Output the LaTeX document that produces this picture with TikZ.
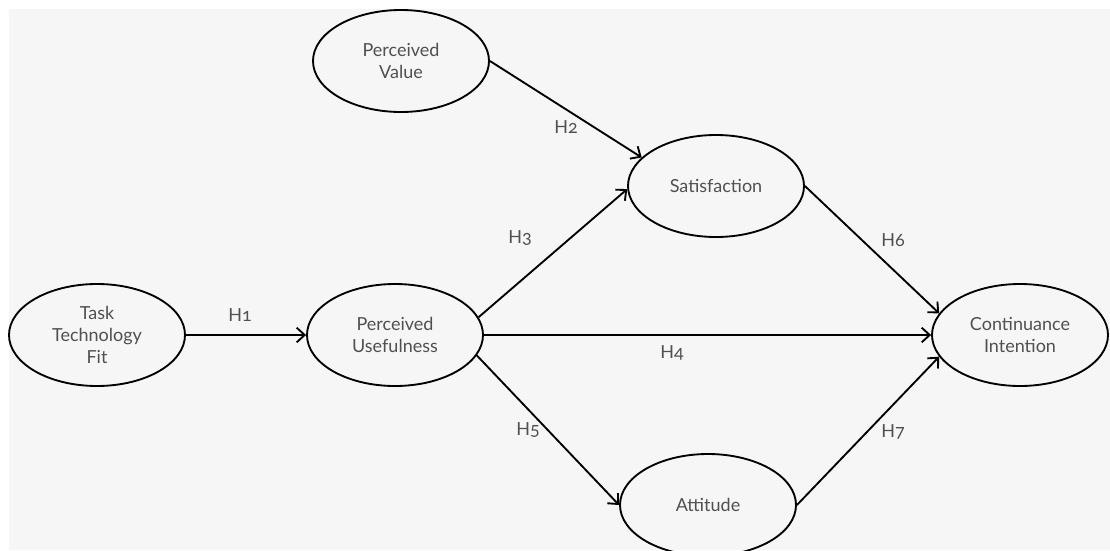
\documentclass[tikz,border=0pt]{standalone}
\usepackage{fontspec}
\setmainfont{Lato}[Numbers=OldStyle]
\usetikzlibrary{arrows.meta, shapes.geometric}
\definecolor{bggray}{HTML}{F6F6F6}
\definecolor{txtgray}{HTML}{505050}
\begin{document}
\begin{tikzpicture}[x=0.75pt,y=-0.75pt,>={Straight Barb[length=6pt,width=11pt]},
construct/.style={ellipse,draw,line width=1.4pt,minimum width=132pt,minimum height=76.5pt,inner sep=0pt,align=center,text=txtgray,font=\fontsize{13.5}{16.5}\selectfont},
hyp/.style={text=txtgray,font=\fontsize{13.5}{16}\selectfont},
link/.style={->,line width=1.4pt}]
\useasboundingbox (0,0) rectangle (1110,550);\fill[bggray] (9,9) rectangle (1110,550);
\node[construct] (pv) at (401,61){Perceived\\Value};\node[construct] (sat) at (716,186){Satisfaction};
\node[construct] (ttf) at (97,335){Task\\Technology\\Fit};\node[construct] (pu) at (395,335){Perceived\\Usefulness};
\node[construct] (ci) at (1020,335){Continuance\\Intention};\node[construct] (att) at (708,505){Attitude};
\draw[link] (ttf.east)--(pu.west);\draw[link] (pv.east)--(sat.159);\draw[link] (pu.12)--(sat.182);
\draw[link] (pu.east)--(ci.west);\draw[link] (pu.-14)--(att.180);
\draw[link] (sat.east)--(ci.165);\draw[link] (att.east)--(ci.195);
\node[hyp] (h1) at (240,315){H1};\node[hyp] (h2) at (566,127){H2};\node[hyp] (h3) at (520,238){H3};\node[hyp] (h4) at (672,353){H4};
\node[hyp] (h5) at (528,430){H5};\node[hyp] (h6) at (893,240){H6};\node[hyp] (h7) at (893,432){H7};
\end{tikzpicture}
\end{document}
